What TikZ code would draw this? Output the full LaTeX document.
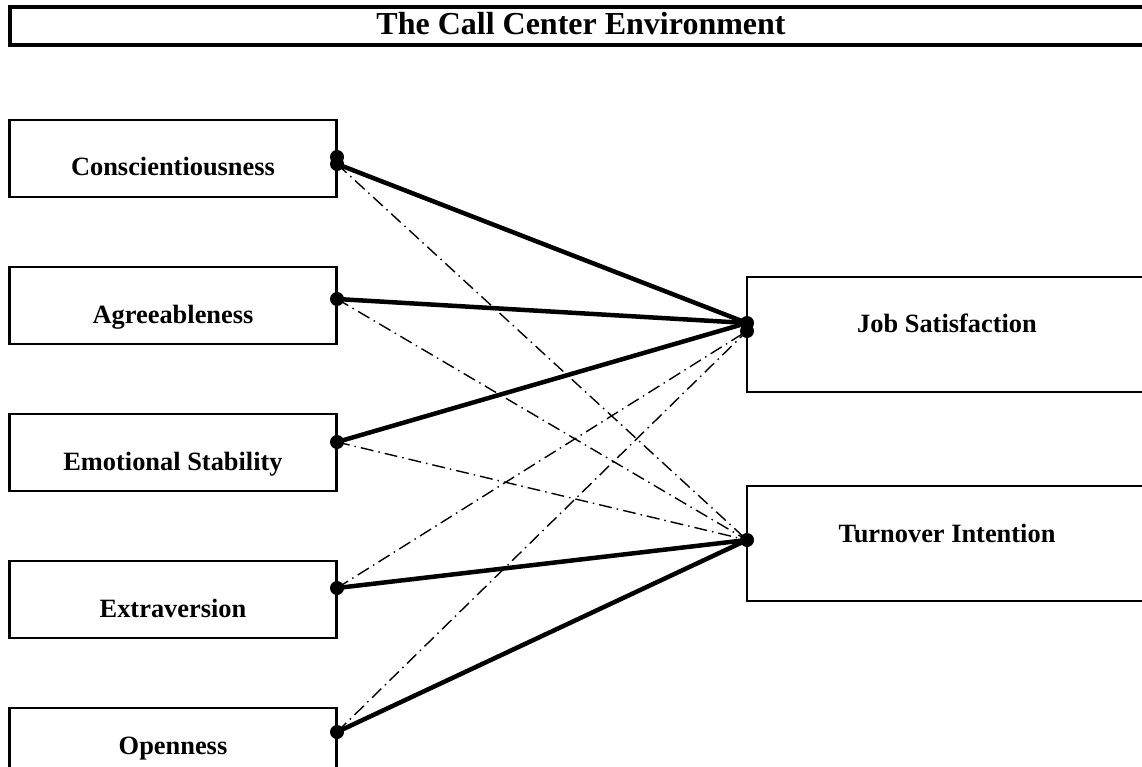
\documentclass[tikz,border=0pt]{standalone}
\usepackage{fontspec}
\setmainfont{Liberation Serif}
\begin{document}
\begin{tikzpicture}[x=1pt,y=-1pt,
  boxnode/.style={draw,line width=2.6pt,inner sep=0pt,outer sep=0pt},
  lbl/.style={anchor=base,inner sep=0pt,font=\fontsize{26.4}{30}\selectfont\bfseries},
  thickcon/.style={line width=4.5pt,line cap=round},
  dashcon/.style={line width=1.4pt,dash pattern=on 13pt off 5pt on 1.5pt off 5pt},
  dotmark/.style={fill=black}]
\clip (0,0) rectangle (1142,767);
\fill[white] (0,0) rectangle (1142,767);
% title
\node[draw,line width=3.8pt,inner sep=0pt,minimum width=1142pt,minimum height=38pt] (title) at (581,26) {};
\node[anchor=base,inner sep=0pt,font=\fontsize{32}{36}\selectfont\bfseries] (titletext) at (581,35) {The Call Center Environment};
% left boxes
\node[boxnode,minimum width=327pt,minimum height=77pt] (C) at (173,158.5) {};
\node[boxnode,minimum width=327pt,minimum height=77pt] (A) at (173,305.5) {};
\node[boxnode,minimum width=327pt,minimum height=77pt] (E) at (173,452.5) {};
\node[boxnode,minimum width=327pt,minimum height=77pt] (X) at (173,599.5) {};
\node[boxnode,minimum width=327pt,minimum height=77pt] (O) at (173,746.5) {};
\node[lbl] (Ct) at (173,176) {Conscientiousness};
\node[lbl] (At) at (173,323) {Agreeableness};
\node[lbl] (Et) at (173,470) {Emotional Stability};
\node[lbl] (Xt) at (173,617) {Extraversion};
\node[lbl] (Ot) at (173,754) {Openness};
% right boxes
\node[boxnode,minimum width=400pt,minimum height=115pt] (JS) at (947,334.5) {};
\node[boxnode,minimum width=400pt,minimum height=115pt] (TI) at (947,543.5) {};
\node[lbl] (JSt) at (947,332) {Job Satisfaction};
\node[lbl] (TIt) at (947,542) {Turnover Intention};
% anchor points
\coordinate (c1) at (337,157);
\coordinate (c2) at (337,164);
\coordinate (a1) at (337,299);
\coordinate (e1) at (337,442);
\coordinate (x1) at (337,588);
\coordinate (o1) at (337,732);
\coordinate (j1) at (747,323);
\coordinate (j2) at (747,331);
\coordinate (t1) at (747,540);
% dash-dot connectors
\draw[dashcon] (c2) -- (t1);
\draw[dashcon] (a1) -- (t1);
\draw[dashcon] (e1) -- (t1);
\draw[dashcon] (x1) -- (j2);
\draw[dashcon] (o1) -- (j2);
% thick connectors
\draw[thickcon] (c2) -- (j1);
\draw[thickcon] (a1) -- (j1);
\draw[thickcon] (e1) -- (j1);
\draw[thickcon] (x1) -- (t1);
\draw[thickcon] (o1) -- (t1);
% dots
\foreach \p in {c1,c2,a1,e1,x1,o1,j1,j2,t1} \fill[dotmark] (\p) circle (7pt);
\end{tikzpicture}
\end{document}
